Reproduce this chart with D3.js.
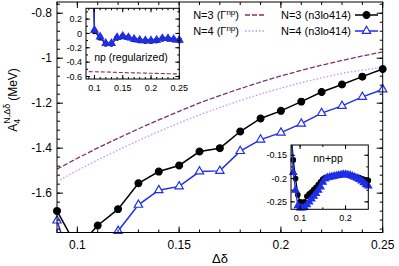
<!DOCTYPE html>
<html>
<head>
<meta charset="utf-8">
<script src="https://cdn.jsdelivr.net/npm/d3@7"></script>
<style>
  body { margin: 0; background: #fff; }
  svg { font-family: "Liberation Sans", Arial, Helvetica, sans-serif; }
</style>
</head>
<body>
<div id="chart"></div>
<script>
// main panel: A4 vs delta-delta
const deltas = [0.09, 0.10, 0.11, 0.12, 0.13, 0.14, 0.15, 0.16, 0.17, 0.18, 0.19, 0.20, 0.21, 0.22, 0.23, 0.24, 0.25];
const n3Gamma = [-1.493, -1.445, -1.399, -1.356, -1.314, -1.274, -1.236, -1.199, -1.166, -1.135, -1.106, -1.079, -1.054, -1.031, -1.010, -0.990, -0.972];
const n4Gamma = [-1.548, -1.499, -1.452, -1.408, -1.366, -1.326, -1.288, -1.252, -1.219, -1.188, -1.159, -1.133, -1.109, -1.087, -1.067, -1.053, -1.040];
const n3Chiral = [-1.679, -1.843, -1.744, -1.671, -1.556, -1.504, -1.477, -1.415, -1.400, -1.326, -1.268, -1.234, -1.193, -1.150, -1.117, -1.082, -1.048];
const n4Chiral = [-1.722, -2.000, -1.950, -1.768, -1.652, -1.587, -1.570, -1.504, -1.501, -1.413, -1.362, -1.331, -1.291, -1.244, -1.212, -1.172, -1.139];

// inset: np (regularized)
const npN3 = [3.0, 0.030, -0.060, -0.145, -0.145, -0.062, -0.042, -0.060, -0.083, -0.097, -0.104, -0.104, -0.097, -0.075, -0.075, -0.087, -0.097];
const npN4 = [3.0, 0.046, -0.047, -0.139, -0.139, -0.056, -0.037, -0.056, -0.079, -0.093, -0.100, -0.100, -0.093, -0.070, -0.070, -0.083, -0.093];
const npGamma = [-0.532, -0.534, -0.536, -0.538, -0.540, -0.543, -0.545, -0.547, -0.549, -0.551, -0.553, -0.555, -0.557, -0.559, -0.561, -0.563, -0.565];

// inset: nn+pp
const nnDeltas = [0.080, 0.085, 0.090, 0.095, 0.100, 0.105, 0.110, 0.115, 0.120, 0.125, 0.130, 0.135, 0.140, 0.145, 0.150, 0.155, 0.160, 0.165, 0.170, 0.175, 0.180, 0.185, 0.190, 0.195, 0.200, 0.205, 0.210, 0.215, 0.220, 0.225, 0.230, 0.235, 0.240, 0.245, 0.250];
const nnN3 = [-0.100, -0.160, -0.200, -0.235, -0.250, -0.251, -0.250, -0.238, -0.233, -0.229, -0.224, -0.219, -0.213, -0.207, -0.201, -0.198, -0.197, -0.196, -0.195, -0.194, -0.193, -0.192, -0.192, -0.191, -0.191, -0.192, -0.193, -0.194, -0.196, -0.197, -0.198, -0.200, -0.202, -0.203, -0.204];
const nnN4 = [-0.100, -0.187, -0.225, -0.258, -0.263, -0.263, -0.262, -0.256, -0.250, -0.244, -0.238, -0.232, -0.225, -0.218, -0.208, -0.201, -0.198, -0.197, -0.196, -0.195, -0.194, -0.193, -0.192, -0.191, -0.191, -0.192, -0.193, -0.195, -0.197, -0.199, -0.202, -0.205, -0.209, -0.213, -0.216];

const legendLabels = ['N=3 (Γ', 'N=4 (Γ', 'N=3 (n3lo414)', 'N=4 (n3lo414)'];

const colors = { n3: '#000000', n4: '#1f2fe8', g3: '#80306e', g4: '#c490ff' };

const W = 399, H = 266;
const svg = d3.select('#chart').append('svg').attr('width', W).attr('height', H);

const fmt = (d) => String(+d.toFixed(3));

// box with inside ticks on all four sides, labels on left and bottom
function drawFrame(g, x, y, o) {
  const [x0, x1] = x.range();
  const [y0, y1] = y.range(); // y0 = bottom
  const tk = (vals, len, horiz) => {
    vals.forEach((v) => {
      if (horiz) {
        const px = x(v);
        g.append('line').attr('x1', px).attr('x2', px).attr('y1', y0).attr('y2', y0 - len);
        g.append('line').attr('x1', px).attr('x2', px).attr('y1', y1).attr('y2', y1 + len);
      } else {
        const py = y(v);
        g.append('line').attr('x1', x0).attr('x2', x0 + len).attr('y1', py).attr('y2', py);
        g.append('line').attr('x1', x1).attr('x2', x1 - len).attr('y1', py).attr('y2', py);
      }
    });
  };
  g.attr('stroke', '#000').attr('stroke-width', 1);
  tk(o.xMinor, o.minorLen, true);
  tk(o.xMajor, o.majorLen, true);
  tk(o.yMinor, o.minorLen, false);
  tk(o.yMajor, o.majorLen, false);
  g.append('rect').attr('x', x0).attr('y', y1).attr('width', x1 - x0).attr('height', y0 - y1)
    .attr('fill', 'none');

  const labels = g.append('g').attr('stroke', 'none').attr('fill', '#000').style('font-size', o.font + 'px');
  labels.selectAll('.xl').data(o.xMajor).join('text')
    .attr('x', (d) => x(d)).attr('y', y0 + o.xLabelDy)
    .attr('text-anchor', 'middle').text(fmt);
  labels.selectAll('.yl').data(o.yMajor).join('text')
    .attr('x', x0 - o.yLabelDx).attr('y', (d) => y(d)).attr('dy', '0.35em')
    .attr('text-anchor', 'end').text(fmt);
}

function range(a, b, step) {
  const out = [];
  for (let v = a; v <= b + 1e-9; v += step) out.push(+v.toFixed(4));
  return out;
}

function drawSeries(g, x, y, xs, ys, o) {
  const pts = xs.map((d, i) => [d, ys[i]]);
  const line = d3.line().x((d) => x(d[0])).y((d) => y(d[1]));
  g.append('path').datum(pts).attr('d', line).attr('fill', 'none')
    .attr('stroke', o.color).attr('stroke-width', o.width || 1.5)
    .attr('stroke-dasharray', o.dash || null)
    .attr('clip-path', o.clip);
  if (!o.marker) return;
  const [lo, hi] = y.domain();
  const vis = pts.filter((d) => d[1] >= lo - 0.002 && d[1] <= hi);
  const sym = d3.symbol().type(o.marker === 'circle' ? d3.symbolCircle : d3.symbolTriangle).size(o.size);
  g.selectAll(null).data(vis).join('path')
    .attr('transform', (d) => `translate(${x(d[0])},${y(d[1])})`)
    .attr('d', sym)
    .attr('fill', o.fill).attr('stroke', o.color).attr('stroke-width', 1.2);
}

function clipRect(id, x, y) {
  const [x0, x1] = x.range();
  const [y0, y1] = y.range();
  svg.append('clipPath').attr('id', id).append('rect')
    .attr('x', x0).attr('y', y1).attr('width', x1 - x0).attr('height', y0 - y1);
  return `url(#${id})`;
}

// ---------- main panel ----------
const xMain = d3.scaleLinear().domain([0.09, 0.25]).range([57, 382.7]);
const yMain = d3.scaleLinear().domain([-1.775, -0.75]).range([232.5, 2]);
const mainClip = clipRect('clip-main', xMain, yMain);

const main = svg.append('g');
drawSeries(main, xMain, yMain, deltas, n3Gamma, { color: colors.g3, dash: '5,2', width: 1.3, clip: mainClip });
drawSeries(main, xMain, yMain, deltas, n4Gamma, { color: colors.g4, dash: '1.5,2', width: 1.3, clip: mainClip });
drawSeries(main, xMain, yMain, deltas, n3Chiral, { color: colors.n3, clip: mainClip, marker: 'circle', size: 36, fill: colors.n3 });
drawSeries(main, xMain, yMain, deltas, n4Chiral, { color: colors.n4, clip: mainClip, marker: 'triangle', size: 30, fill: '#fff' });

drawFrame(svg.append('g'), xMain, yMain, {
  xMajor: [0.1, 0.15, 0.2, 0.25], xMinor: range(0.09, 0.25, 0.01),
  yMajor: [-1.6, -1.4, -1.2, -1, -0.8], yMinor: range(-1.76, -0.76, 0.04),
  majorLen: 6, minorLen: 3, font: 12, xLabelDy: 16, yLabelDx: 5,
});

// axis titles
svg.append('text').attr('x', 220).attr('y', 263).attr('text-anchor', 'middle')
  .style('font-size', '13px').text('Δδ');
const yt = svg.append('text').attr('transform', 'translate(17,100) rotate(-90)')
  .attr('text-anchor', 'middle').style('font-size', '12px');
yt.append('tspan').text('A');
yt.append('tspan').attr('dy', 3).style('font-size', '9px').text('4');
yt.append('tspan').attr('dx', -5).attr('dy', -10).style('font-size', '9px').text('N,Δδ');
yt.append('tspan').attr('dx', 3).attr('dy', 7).text('(MeV)');

// legend
const leg = svg.append('g').style('font-size', '11px');
[[legendLabels[0], 15, colors.g3, '5,2'], [legendLabels[1], 31, colors.g4, '1.5,2']].forEach(([t, y, c, dash]) => {
  const tx = leg.append('text').attr('x', 239).attr('y', y).attr('dy', '0.35em').attr('text-anchor', 'end');
  tx.append('tspan').text(t);
  tx.append('tspan').attr('dy', -4).style('font-size', '8px').text('np');
  tx.append('tspan').attr('dy', 4).text(')');
  leg.append('line').attr('x1', 245).attr('x2', 266).attr('y1', y).attr('y2', y)
    .attr('stroke', c).attr('stroke-width', 1.3).attr('stroke-dasharray', dash);
});
[[legendLabels[2], 15, colors.n3, 'circle', colors.n3, 36], [legendLabels[3], 31, colors.n4, 'triangle', '#fff', 30]].forEach(([t, y, c, m, f, s]) => {
  leg.append('text').attr('x', 351).attr('y', y).attr('dy', '0.35em').attr('text-anchor', 'end').text(t);
  leg.append('line').attr('x1', 355).attr('x2', 378).attr('y1', y).attr('y2', y)
    .attr('stroke', c).attr('stroke-width', 1.5);
  leg.append('path').attr('transform', `translate(366.5,${y})`)
    .attr('d', d3.symbol().type(m === 'circle' ? d3.symbolCircle : d3.symbolTriangle).size(s))
    .attr('fill', f).attr('stroke', c).attr('stroke-width', 1.2);
});

// ---------- inset: np (regularized) ----------
const xNp = d3.scaleLinear().domain([0.085, 0.25]).range([86, 179.3]);
const yNp = d3.scaleLinear().domain([-0.635, 0.35]).range([79, 8.3]);
svg.append('rect').attr('x', 86).attr('y', 8.3).attr('width', 93.3).attr('height', 70.7).attr('fill', '#fff');
const npClip = clipRect('clip-np', xNp, yNp);
const np = svg.append('g');
drawSeries(np, xNp, yNp, deltas, npGamma, { color: colors.g3, dash: '4,2', width: 1.1, clip: npClip });
drawSeries(np, xNp, yNp, deltas, npN3, { color: colors.n3, width: 1.3, clip: npClip, marker: 'circle', size: 16, fill: colors.n3 });
drawSeries(np, xNp, yNp, deltas, npN4, { color: colors.n4, width: 1.3, clip: npClip, marker: 'triangle', size: 22, fill: colors.n4 });
svg.append('text').attr('x', 131).attr('y', 61).attr('text-anchor', 'middle')
  .style('font-size', '10.5px').text('np (regularized)');
drawFrame(svg.append('g'), xNp, yNp, {
  xMajor: [0.1, 0.15, 0.2, 0.25], xMinor: range(0.09, 0.25, 0.01),
  yMajor: [-0.6, -0.4, -0.2, 0, 0.2], yMinor: range(-0.6, 0.3, 0.1),
  majorLen: 4, minorLen: 2, font: 9, xLabelDy: 12, yLabelDx: 4,
});

// ---------- inset: nn+pp ----------
const xNn = d3.scaleLinear().domain([0.08, 0.25]).range([291, 368.3]);
const yNn = d3.scaleLinear().domain([-0.266, -0.128]).range([209.3, 145]);
svg.append('rect').attr('x', 291).attr('y', 145).attr('width', 77.3).attr('height', 64.3).attr('fill', '#fff');
const nnClip = clipRect('clip-nn', xNn, yNn);
const nn = svg.append('g');
drawSeries(nn, xNn, yNn, nnDeltas, nnN3, { color: colors.n3, width: 1.3, clip: nnClip, marker: 'circle', size: 16, fill: colors.n3 });
drawSeries(nn, xNn, yNn, nnDeltas, nnN4, { color: colors.n4, width: 1.3, clip: nnClip, marker: 'triangle', size: 20, fill: colors.n4 });
svg.append('text').attr('x', 328).attr('y', 162).attr('text-anchor', 'middle')
  .style('font-size', '10.5px').text('nn+pp');
drawFrame(svg.append('g'), xNn, yNn, {
  xMajor: [0.1, 0.2], xMinor: [0.1, 0.15, 0.2],
  yMajor: [-0.25, -0.2, -0.15], yMinor: range(-0.25, -0.15, 0.025),
  majorLen: 4, minorLen: 2, font: 9, xLabelDy: 12, yLabelDx: 4,
});
</script>
</body>
</html>
